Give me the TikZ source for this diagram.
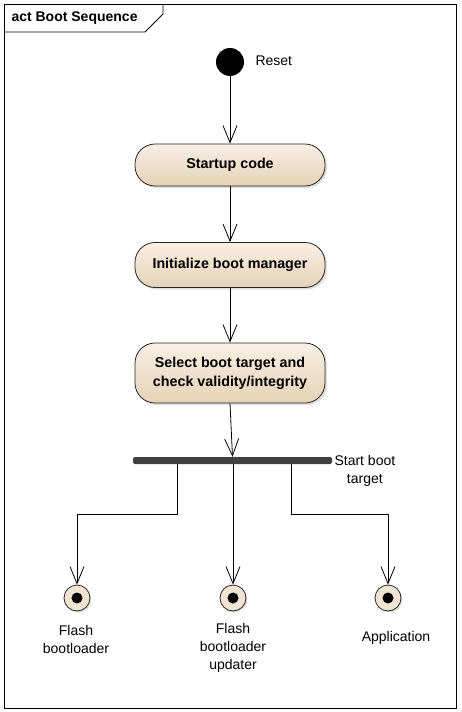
\documentclass[tikz,border=0pt]{standalone}
\usepackage{fontspec}
\setmainfont{Liberation Sans}
\usetikzlibrary{arrows.meta,shadows,positioning}
\definecolor{actTop}{RGB}{248,240,228}
\definecolor{actBot}{RGB}{230,210,182}
\definecolor{barGray}{RGB}{64,64,64}
\tikzset{
  action/.style={draw=black!85, line width=0.8pt, rounded corners=20pt,
    top color=actTop, bottom color=actBot, minimum width=190pt,
    minimum height=42pt, align=center, font=\bfseries\fontsize{14.3}{19}\selectfont,
    drop shadow={shadow xshift=2pt, shadow yshift=-2pt, fill=black!25}},
  flow/.style={line width=0.8pt, -{Straight Barb[length=17pt,width=14pt]}},
  final/.style={circle, draw=black!85, line width=0.8pt, fill=actTop!60!actBot,
    minimum size=26pt, inner sep=0pt,
    drop shadow={shadow xshift=1.5pt, shadow yshift=-1.5pt, fill=black!25},
    path picture={\fill[black] (path picture bounding box.center) circle (5.5pt);}},
  lbl/.style={font=\fontsize{14}{18}\selectfont, align=center}
}
\begin{document}
\begin{tikzpicture}[x=1pt, y=-1pt]
  \useasboundingbox (0,0) rectangle (461,712);
  % Frame
  \draw[line width=0.8pt] (4,4) rectangle (456,708);
  \draw[line width=0.8pt] (4,32) -- (145,32) -- (163,14) -- (163,4);
  \node[anchor=west, font=\bfseries\fontsize{14}{18}\selectfont] (title) at (8,18) {act Boot Sequence};

  % Initial node
  \node[circle, fill=black, minimum size=28pt, inner sep=0pt] (reset) at (230,62) {};
  \node[lbl, anchor=west] (resetlbl) at (252,61) {Reset};

  % Actions
  \node[action] (startup) at (230,165) {Startup code};
  \node[action, minimum height=45pt] (init) at (230,265) {Initialize boot manager};
  \node[action, minimum height=60pt] (select) at (230,373) {Select boot target and\\check validity/integrity};

  % Fork bar
  \node[fill=barGray, rounded corners=2pt, minimum width=199pt, minimum height=7pt,
    inner sep=0pt] (bar) at (232.5,460.5) {};
  \node[lbl, anchor=west, align=center] (barlbl) at (331,471) {Start boot\\target};

  % Final nodes
  \node[final] (fb) at (77,598) {};
  \node[final] (fbu) at (233,598) {};
  \node[final] (app) at (388,598) {};
  \node[lbl] (fblbl) at (76,639) {Flash\\bootloader};
  \node[lbl] (fbulbl) at (233,648) {Flash\\bootloader\\updater};
  \node[lbl] (applbl) at (396,638) {Application};

  % Flows
  \draw[flow] (reset) -- (startup);
  \draw[flow] (startup) -- (init);
  \draw[flow] (init) -- (select);
  \draw[flow] (select.south) -- (bar.north);
  \draw[flow] ([xshift=-55.5pt]bar.south) -- ++(0,50) -| (fb);
  \draw[flow] (bar.south -| fbu) -- (fbu);
  \draw[flow] ([xshift=58.5pt]bar.south) -- ++(0,50) -| (app);
\end{tikzpicture}
\end{document}
